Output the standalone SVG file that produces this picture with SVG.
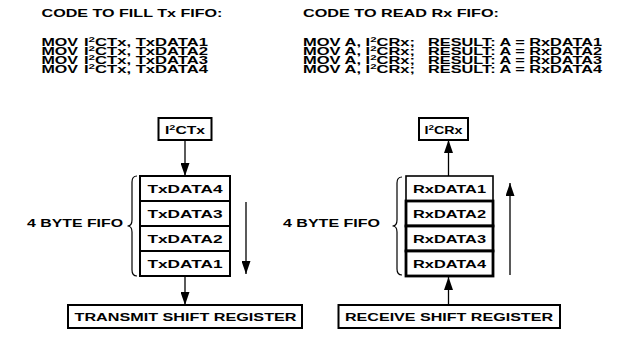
<svg xmlns="http://www.w3.org/2000/svg" width="617" height="339" viewBox="0 0 617 339">
<style>
.t{font-family:"Liberation Sans",Arial,Helvetica,sans-serif;font-weight:bold;font-size:11.5px;fill:#000}
.c{text-anchor:middle}
.sup{font-size:8px}
.box{fill:#fff;stroke:#000;stroke-width:2}
.thin{fill:#fff;stroke:#000;stroke-width:1.6}
.thick{fill:#fff;stroke:#000;stroke-width:2.8}
.ln{stroke:#000;stroke-width:1.3;fill:none}
.br{stroke:#000;stroke-width:1.2;fill:none}
</style>
<defs>
<marker id="ah" markerUnits="userSpaceOnUse" markerWidth="13" markerHeight="9" refX="13" refY="4.5" orient="auto">
<path d="M0,0 L13,4.5 L0,9 z" fill="#000"/>
</marker>
</defs>
<rect width="617" height="339" fill="#fff"/>

<g id="code-tx">
<text class="t" x="41.5" y="17" textLength="181" lengthAdjust="spacingAndGlyphs">CODE TO FILL Tx FIFO:</text>
<text class="t" x="41.5" y="45.5" textLength="36.5" lengthAdjust="spacingAndGlyphs">MOV</text>
<text class="t" x="84" y="45.5" textLength="124" lengthAdjust="spacingAndGlyphs">I<tspan class="sup" dy="-4">2</tspan><tspan dy="4">CTx, TxDATA1</tspan></text>
<text class="t" x="41.5" y="54.5" textLength="36.5" lengthAdjust="spacingAndGlyphs">MOV</text>
<text class="t" x="84" y="54.5" textLength="124" lengthAdjust="spacingAndGlyphs">I<tspan class="sup" dy="-4">2</tspan><tspan dy="4">CTx, TxDATA2</tspan></text>
<text class="t" x="41.5" y="63.5" textLength="36.5" lengthAdjust="spacingAndGlyphs">MOV</text>
<text class="t" x="84" y="63.5" textLength="124" lengthAdjust="spacingAndGlyphs">I<tspan class="sup" dy="-4">2</tspan><tspan dy="4">CTx, TxDATA3</tspan></text>
<text class="t" x="41.5" y="72.5" textLength="36.5" lengthAdjust="spacingAndGlyphs">MOV</text>
<text class="t" x="84" y="72.5" textLength="124" lengthAdjust="spacingAndGlyphs">I<tspan class="sup" dy="-4">2</tspan><tspan dy="4">CTx, TxDATA4</tspan></text>
</g>

<g id="code-rx">
<text class="t" x="303" y="17" textLength="196" lengthAdjust="spacingAndGlyphs">CODE TO READ Rx FIFO:</text>
<text class="t" x="303" y="45.5" textLength="112" lengthAdjust="spacingAndGlyphs">MOV A, I<tspan class="sup" dy="-4">2</tspan><tspan dy="4">CRx;</tspan></text>
<text class="t" x="428" y="45.5" textLength="174" lengthAdjust="spacingAndGlyphs">RESULT: A = RxDATA1</text>
<text class="t" x="303" y="54.5" textLength="112" lengthAdjust="spacingAndGlyphs">MOV A, I<tspan class="sup" dy="-4">2</tspan><tspan dy="4">CRx;</tspan></text>
<text class="t" x="428" y="54.5" textLength="174" lengthAdjust="spacingAndGlyphs">RESULT: A = RxDATA2</text>
<text class="t" x="303" y="63.5" textLength="112" lengthAdjust="spacingAndGlyphs">MOV A, I<tspan class="sup" dy="-4">2</tspan><tspan dy="4">CRx;</tspan></text>
<text class="t" x="428" y="63.5" textLength="174" lengthAdjust="spacingAndGlyphs">RESULT: A = RxDATA3</text>
<text class="t" x="303" y="72.5" textLength="112" lengthAdjust="spacingAndGlyphs">MOV A, I<tspan class="sup" dy="-4">2</tspan><tspan dy="4">CRx;</tspan></text>
<text class="t" x="428" y="72.5" textLength="174" lengthAdjust="spacingAndGlyphs">RESULT: A = RxDATA4</text>
</g>

<g id="i2ctx">
<rect class="box" x="158.5" y="118" width="53" height="22"/>
<text class="t c" x="185" y="133.5" textLength="40" lengthAdjust="spacingAndGlyphs">I<tspan class="sup" dy="-4">2</tspan><tspan dy="4">CTx</tspan></text>
</g>

<g id="tx-fifo">
<rect class="box" x="140" y="176" width="90" height="25"/>
<rect class="box" x="140" y="201" width="90" height="25"/>
<rect class="box" x="140" y="226" width="90" height="25"/>
<rect class="box" x="140" y="251" width="90" height="25"/>
<text class="t c" x="185" y="192.5" textLength="75" lengthAdjust="spacingAndGlyphs">TxDATA4</text>
<text class="t c" x="185" y="217.5" textLength="75" lengthAdjust="spacingAndGlyphs">TxDATA3</text>
<text class="t c" x="185" y="242.5" textLength="75" lengthAdjust="spacingAndGlyphs">TxDATA2</text>
<text class="t c" x="185" y="267.5" textLength="75" lengthAdjust="spacingAndGlyphs">TxDATA1</text>
</g>

<g id="tx-label">
<text class="t" x="27" y="226.5" textLength="96" lengthAdjust="spacingAndGlyphs">4 BYTE FIFO</text>
<path class="br" d="M137,176 Q132,176 132,182 L132,220 Q132,226 127.5,226 Q132,226 132,232 L132,270 Q132,276 137,276"/>
</g>

<g id="tsr">
<rect class="box" x="68" y="305" width="234" height="23"/>
<text class="t c" x="185.5" y="320.5" textLength="222" lengthAdjust="spacingAndGlyphs">TRANSMIT SHIFT REGISTER</text>
</g>

<g id="i2crx">
<rect class="box" x="419" y="118" width="49" height="22"/>
<text class="t c" x="443.5" y="133.5" textLength="38" lengthAdjust="spacingAndGlyphs">I<tspan class="sup" dy="-4">2</tspan><tspan dy="4">CRx</tspan></text>
</g>

<g id="rx-fifo">
<rect class="thin" x="406" y="176" width="87" height="25"/>
<rect class="thick" x="406" y="201" width="87" height="25"/>
<rect class="thick" x="406" y="226" width="87" height="25"/>
<rect class="thick" x="406" y="251" width="87" height="25"/>
<text class="t c" x="449.5" y="192.5" textLength="73" lengthAdjust="spacingAndGlyphs">RxDATA1</text>
<text class="t c" x="449.5" y="217.5" textLength="73" lengthAdjust="spacingAndGlyphs">RxDATA2</text>
<text class="t c" x="449.5" y="242.5" textLength="73" lengthAdjust="spacingAndGlyphs">RxDATA3</text>
<text class="t c" x="449.5" y="267.5" textLength="73" lengthAdjust="spacingAndGlyphs">RxDATA4</text>
</g>

<g id="rx-label">
<text class="t" x="283" y="226.5" textLength="97" lengthAdjust="spacingAndGlyphs">4 BYTE FIFO</text>
<path class="br" d="M402,177 Q397,177 397,183 L397,220 Q397,226 392.5,226 Q397,226 397,232 L397,269 Q397,275 402,275"/>
</g>

<g id="rsr">
<rect class="box" x="338.5" y="305" width="221.5" height="23"/>
<text class="t c" x="449" y="320.5" textLength="208" lengthAdjust="spacingAndGlyphs">RECEIVE SHIFT REGISTER</text>
</g>

<g id="connectors">
<line class="ln" x1="185" y1="140" x2="185" y2="176" marker-end="url(#ah)"/>
<line class="ln" x1="185" y1="277" x2="185" y2="305" marker-end="url(#ah)"/>
<line class="ln" x1="246" y1="202" x2="246" y2="274" marker-end="url(#ah)"/>
<line class="ln" x1="448.5" y1="176" x2="448.5" y2="140" marker-end="url(#ah)"/>
<line class="ln" x1="448.5" y1="305" x2="448.5" y2="277" marker-end="url(#ah)"/>
<line class="ln" x1="510" y1="275" x2="510" y2="183" marker-end="url(#ah)"/>
</g>
</svg>
